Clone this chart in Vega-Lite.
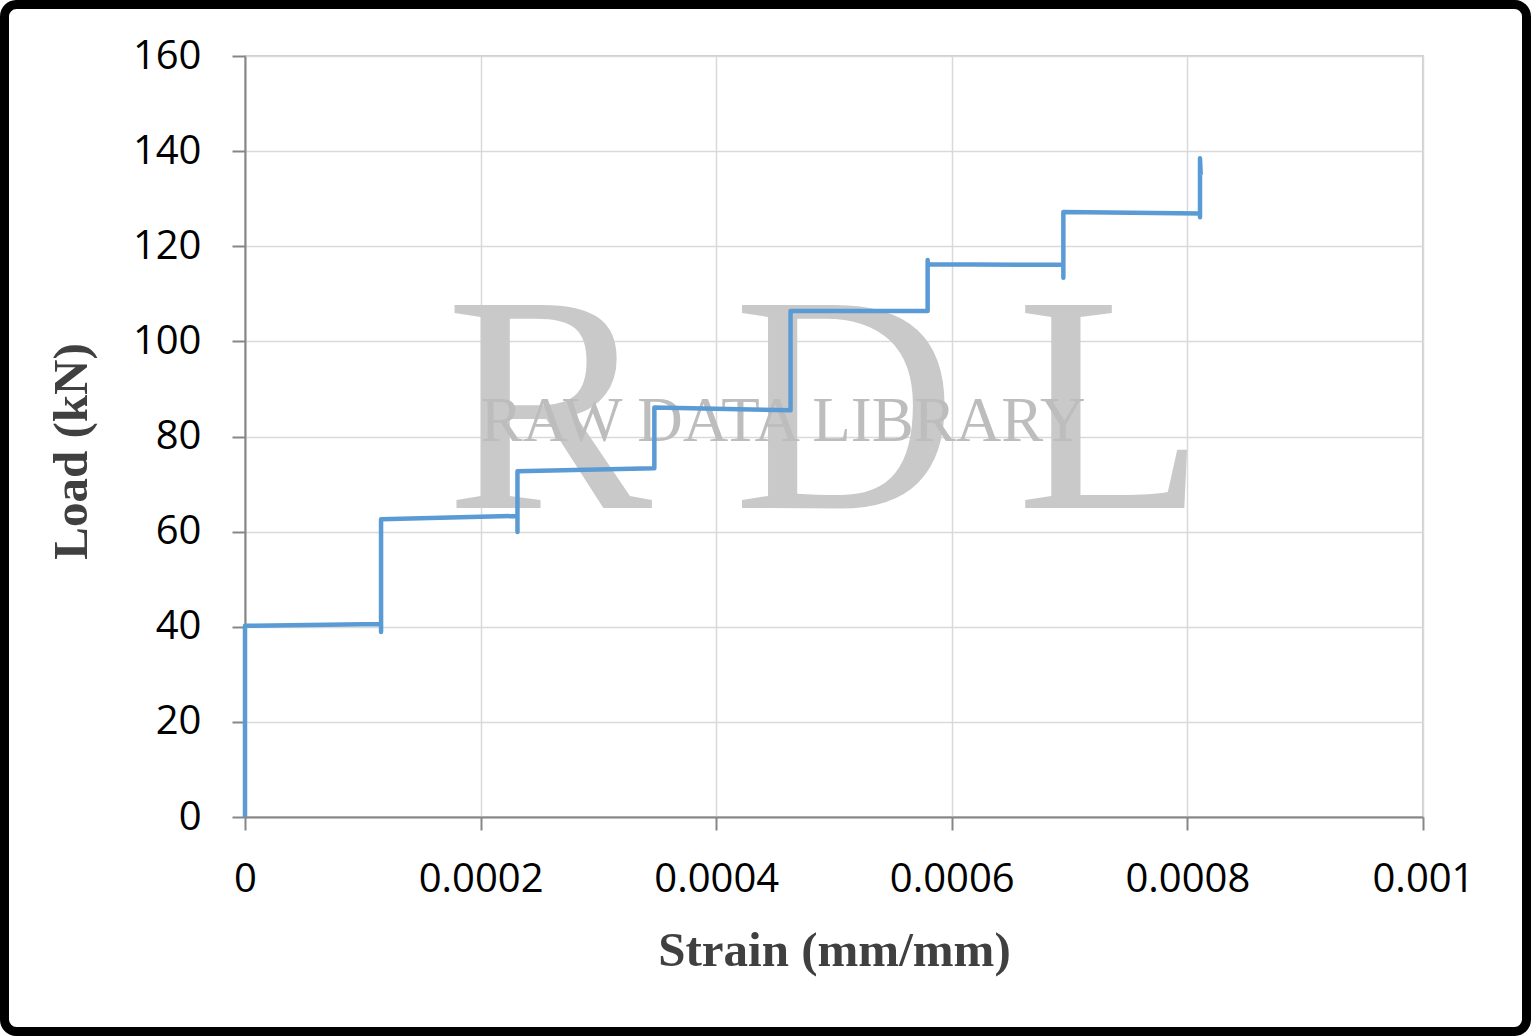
{
  "$schema": "https://vega.github.io/schema/vega-lite/v6.json",
  "width": 1178,
  "height": 761,
  "autosize": {"type": "none"},
  "padding": {"left": 245, "top": 56, "right": 108, "bottom": 219},
  "background": "white",
  "datasets": {
    "curve": [
      {"i": 0, "strain": 0, "load": 0},
      {"i": 1, "strain": 0, "load": 40.2},
      {"i": 2, "strain": 0.0001155, "load": 40.6},
      {"i": 3, "strain": 0.0001155, "load": 38.9},
      {"i": 4, "strain": 0.0001155, "load": 62.6},
      {"i": 5, "strain": 0.0002313, "load": 63.3},
      {"i": 6, "strain": 0.0002313, "load": 59.9},
      {"i": 7, "strain": 0.0002313, "load": 72.7},
      {"i": 8, "strain": 0.0003475, "load": 73.3},
      {"i": 9, "strain": 0.0003475, "load": 86.1},
      {"i": 10, "strain": 0.0004631, "load": 85.5},
      {"i": 11, "strain": 0.0004631, "load": 106.4},
      {"i": 12, "strain": 0.0005795, "load": 106.4},
      {"i": 13, "strain": 0.0005795, "load": 117.1},
      {"i": 14, "strain": 0.0005795, "load": 116.2},
      {"i": 15, "strain": 0.0006947, "load": 116.1},
      {"i": 16, "strain": 0.0006947, "load": 113.4},
      {"i": 17, "strain": 0.0006947, "load": 127.2},
      {"i": 18, "strain": 0.0008107, "load": 126.9},
      {"i": 19, "strain": 0.0008107, "load": 126.1},
      {"i": 20, "strain": 0.0008107, "load": 138.5},
      {"i": 21, "strain": 0.0008113, "load": 135.0}
    ],
    "bigmark": [
      {"strain": 0.00025806, "load": 64.97, "label": "R"},
      {"strain": 0.00050934, "load": 64.97, "label": "D"},
      {"strain": 0.00073514, "load": 64.97, "label": "L"}
    ],
    "smallmark": [
      {"strain": 0.0004567, "load": 79.12, "label": "RAW DATA LIBRARY"}
    ],
    "frame": [
      {"strain": -0.00020416, "strain2": 0.00108786, "load": 170.83, "load2": -45.10}
    ]
  },
  "encoding": {
    "x": {
      "field": "strain",
      "type": "quantitative",
      "scale": {"domain": [0, 0.001], "nice": false, "zero": false},
      "axis": {
        "title": "Strain (mm/mm)",
        "values": [0, 0.0002, 0.0004, 0.0006, 0.0008, 0.001],
        "format": "~g",
        "labelPadding": 29,
        "titleY": 148,
        "titleBaseline": "alphabetic",
        "titleAnchor": "middle"
      }
    },
    "y": {
      "field": "load",
      "type": "quantitative",
      "scale": {"domain": [0, 160], "nice": false, "zero": false},
      "axis": {
        "title": "Load (kN)",
        "values": [0, 20, 40, 60, 80, 100, 120, 140, 160],
        "labelPadding": 31,
        "titleX": -159,
        "titleY": 395,
        "titleAngle": -90,
        "titleBaseline": "alphabetic",
        "titleAlign": "center"
      }
    }
  },
  "layer": [
    {
      "data": {"name": "bigmark"},
      "mark": {"type": "text", "font": "Liberation Serif", "fontSize": 310, "color": "#c9c9c9", "align": "center", "baseline": "alphabetic"},
      "encoding": {"text": {"field": "label"}}
    },
    {
      "data": {"name": "smallmark"},
      "mark": {"type": "text", "font": "Liberation Serif", "fontSize": 63, "color": "#bdbdbd", "align": "center", "baseline": "alphabetic"},
      "encoding": {"text": {"field": "label"}}
    },
    {
      "data": {"name": "curve"},
      "mark": {"type": "line", "color": "#5b9bd5", "strokeWidth": 4.5, "strokeJoin": "round", "strokeCap": "butt"},
      "encoding": {"order": {"field": "i", "type": "quantitative"}}
    },
    {
      "data": {"name": "frame"},
      "mark": {"type": "rect", "fill": null, "fillOpacity": 0, "stroke": "black", "strokeWidth": 9, "cornerRadius": 12},
      "encoding": {
        "x2": {"field": "strain2"},
        "y2": {"field": "load2"}
      }
    }
  ],
  "config": {
    "font": "Open Sans",
    "view": {"stroke": "#bfbfbf", "strokeWidth": 1.5},
    "axis": {
      "grid": true,
      "gridColor": "#d9d9d9",
      "gridWidth": 1.5,
      "domainColor": "#868686",
      "domainWidth": 2,
      "tickColor": "#868686",
      "tickWidth": 2,
      "tickSize": 13,
      "labelFont": "Open Sans",
      "labelFontSize": 40,
      "labelColor": "#000000",
      "labelOverlap": false,
      "labelFlush": false,
      "titleFont": "Liberation Serif",
      "titleFontSize": 49,
      "titleFontWeight": "bold",
      "titleColor": "#404040"
    }
  }
}
